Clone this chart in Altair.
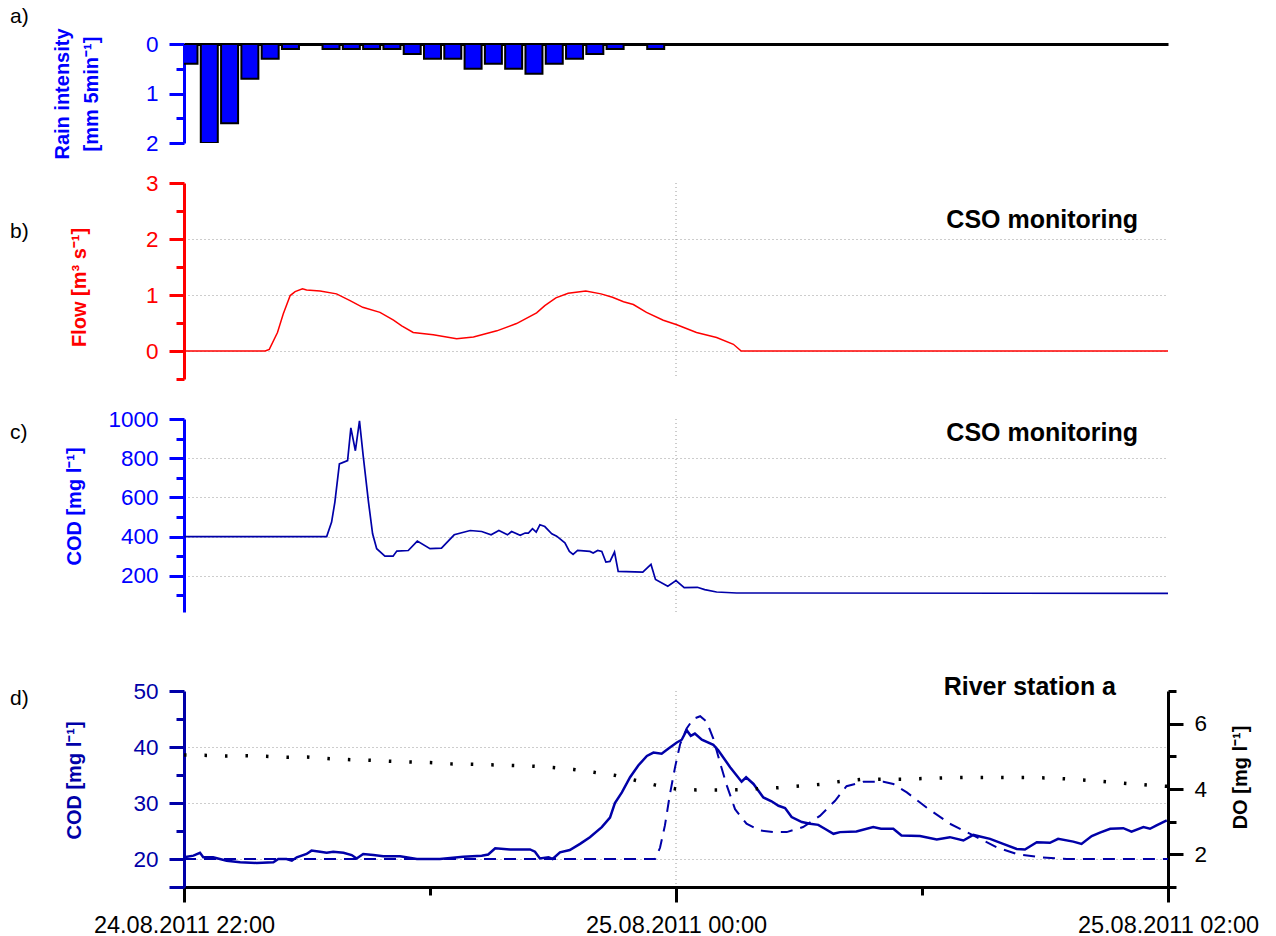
import altair as alt
import pandas as pd

FONT = "Liberation Sans"
BLUE = "#0000FF"
NAVY = "#0000A8"
RED = "#FF0000"
GRID = "#9a9a9a"

# time: minutes after 24.08.2011 22:00
X_TICKS = [0, 60, 120, 180, 240]
X_LABELS = ["24.08.2011 22:00", "", "25.08.2011 00:00", "", "25.08.2011 02:00"]

# a) rain intensity, 5-min bars
RAIN_T = [0, 5, 10, 15, 20, 25, 30, 35, 40, 45, 50, 55, 60, 65, 70, 75, 80, 85, 90, 95, 100, 105, 110, 115]
RAIN_V = [0.4, 2.0, 1.6, 0.7, 0.3, 0.1, 0.0, 0.1, 0.1, 0.1, 0.1, 0.2, 0.3, 0.3, 0.5, 0.4, 0.5, 0.6, 0.4, 0.3, 0.2, 0.1, 0.0, 0.1]

# b) CSO flow
FLOW_T = [0, 19.8, 20.8, 22.8, 24.2, 25.9, 27.1, 28.9, 29.9, 33.2, 37.2, 40.5, 43.6, 47.8, 51.1, 53.1, 55.9,
          60.8, 66.5, 70.6, 76.3, 81.1, 86.0, 88.0, 90.7, 93.7, 98.0, 101.7, 104.5, 107.2, 109.6, 112.8, 116.9,
          120.2, 125.0, 129.9, 134.0, 135.9, 240]
FLOW_V = [0, 0, 0.03, 0.33, 0.66, 0.99, 1.06, 1.11, 1.09, 1.07, 1.02, 0.90, 0.78, 0.69, 0.55, 0.45, 0.33,
          0.29, 0.22, 0.25, 0.36, 0.49, 0.68, 0.81, 0.95, 1.03, 1.07, 1.02, 0.96, 0.88, 0.83, 0.69, 0.55,
          0.47, 0.33, 0.24, 0.12, 0.0, 0.0]

# c) CSO COD
CODC_T = [0, 34.8, 36.0, 36.8, 37.9, 39.9, 40.7, 41.8, 42.8, 43.7, 45.0, 46.0, 47.0, 49.0, 51.0, 51.9, 54.7,
          56.9, 60.0, 62.8, 65.9, 69.8, 72.6, 74.9, 76.8, 78.9, 79.9, 82.0, 83.2, 84.0, 85.0, 85.9, 86.8, 88.0,
          89.7, 90.9, 92.9, 94.0, 94.9, 96.0, 99.0, 99.8, 100.9, 101.9, 102.9, 103.9, 105.0, 105.9, 111.9,
          113.9, 115.0, 118.0, 120.0, 122.0, 125.2, 127.0, 129.9, 134.8, 240]
CODC_V = [400, 400, 474, 576, 771, 788, 955, 838, 990, 813, 576, 414, 338, 300, 300, 326, 329,
          377, 338, 341, 409, 431, 426, 409, 431, 409, 426, 406, 418, 418, 440, 423, 460, 451,
          414, 402, 368, 324, 309, 329, 324, 316, 329, 324, 270, 273, 321, 222, 219,
          258, 181, 147, 175, 139, 141, 129, 117, 112, 110]

# d) river station: COD (solid), COD (dashed), DO (dotted)
CODD_T = [0, 2.3, 3.9, 4.7, 7.1, 10.4, 13.7, 17.7, 21.8, 23.0, 25.0, 26.3, 27.5, 29.9, 31.1, 33.2, 34.8, 36.4,
          38.9, 40.9, 42.1, 43.7, 46.2, 48.6, 52.7, 56.8, 62.4, 68.1, 72.6, 74.2, 75.9, 79.5, 84.4, 85.6, 86.8,
          88.9, 89.9, 91.7, 94.1, 96.6, 99.0, 101.9, 103.9, 105.1, 106.8, 108.8, 110.8, 112.9, 114.5, 116.5,
          118.1, 120.2, 121.4, 122.6, 123.6, 124.6, 126.3, 129.1, 130.3, 133.2, 136.0, 137.1, 138.9, 141.3,
          143.3, 145.0, 146.6, 148.2, 150.7, 152.7, 154.7, 156.3, 158.4, 160.0, 164.0, 168.1, 170.0, 173.0,
          175.0, 179.5, 183.6, 186.8, 190.1, 192.5, 196.6, 199.8, 203.1, 205.1, 208.0, 211.2, 213.2, 216.9,
          218.9, 221.4, 223.4, 225.9, 229.1, 231.1, 234.0, 235.6, 237.2, 239.7]
CODD_V = [20.3, 20.6, 21.1, 20.3, 20.3, 19.7, 19.4, 19.3, 19.4, 20.0, 20.0, 19.7, 20.3, 20.9, 21.5, 21.3, 21.1, 21.3,
          21.1, 20.7, 20.1, 20.9, 20.7, 20.5, 20.5, 20.0, 20.0, 20.4, 20.6, 20.8, 21.9, 21.7, 21.7, 21.3, 20.1,
          20.3, 20.0, 21.2, 21.6, 22.7, 23.9, 25.7, 27.4, 30.0, 31.9, 34.6, 36.7, 38.4, 39.0, 38.8,
          39.7, 40.8, 41.3, 43.0, 42.0, 42.4, 41.3, 40.4, 39.4, 36.4, 33.8, 34.6, 33.4, 31.0,
          30.3, 29.5, 29.1, 27.5, 26.6, 26.3, 26.1, 25.4, 24.5, 24.8, 24.9, 25.7, 25.4, 25.4,
          24.2, 24.1, 23.5, 23.9, 23.3, 24.3, 23.6, 22.7, 21.8, 21.7, 23.0, 22.9, 23.6, 23.1,
          22.7, 24.1, 24.7, 25.4, 25.5, 24.9, 25.7, 25.4, 26.0, 26.9]

DASH_T = [0, 114.9, 116.1, 117.3, 118.5, 119.8, 121.0, 122.6, 124.2, 125.9, 127.5, 129.1, 130.7, 132.4, 134.4,
          137.2, 140.5, 143.7, 147.0, 151.0, 155.1, 158.8, 161.6, 165.7, 170.6, 173.0, 176.3, 181.1, 186.8,
          192.5, 198.2, 203.1, 208.8, 215.3, 240]
DASH_V = [20, 20, 22.0, 26.0, 31.5, 36.5, 40.5, 43.3, 45.0, 45.5, 44.5, 41.5, 37.3, 33.1, 28.9,
          26.3, 25.1, 24.8, 24.8, 25.7, 27.7, 30.4, 33.0, 33.8, 33.8, 33.4, 31.9, 29.2, 26.3,
          24.2, 22.1, 20.9, 20.3, 20.0, 20.0]

DO_T = list(range(0, 241, 5))
DO_V = [5.04, 5.03, 5.01, 5.02, 5.00, 4.97, 4.98, 4.93, 4.90, 4.88, 4.85, 4.83, 4.81, 4.77, 4.76, 4.74, 4.72,
        4.70, 4.66, 4.60, 4.51, 4.42, 4.27, 4.12, 4.00, 3.97, 3.97, 3.98, 4.01, 4.04, 4.09, 4.14, 4.23, 4.29,
        4.30, 4.30, 4.32, 4.34, 4.35, 4.35, 4.35, 4.35, 4.34, 4.31, 4.27, 4.22, 4.17, 4.12, 4.08]

W = 984
XSCALE = alt.Scale(domain=[0, 240], nice=False, zero=False)


def df(t, v):
    return pd.DataFrame({"t": t, "v": v})


def y_axis(color, values, minor_test, label_test, grid_test, title, title_x, title_y,
           orient="left", line_height=None):
    kw = dict(orient=orient, values=values, tickCount=100, domainColor=color, domainWidth=3,
              tickColor=color, tickWidth=3,
              tickSize={"condition": {"test": minor_test, "value": 8}, "value": 15},
              labelExpr=f"({label_test}) ? '' + datum.value : ''",
              labelColor=color, labelFont=FONT, labelFontSize=22.5, labelPadding=11,
              labelOverlap=False,
              title=title, titleColor=color, titleFont=FONT, titleFontSize=20,
              titleFontWeight="bold", titleAngle=270, titleAlign="center",
              titleBaseline="middle", titleX=title_x, titleY=title_y)
    if line_height:
        kw["titleLineHeight"] = line_height
    if grid_test:
        kw.update(grid=True, gridColor=GRID, gridDash=[1, 3], gridWidth=1,
                  gridOpacity={"condition": {"test": grid_test, "value": 1}, "value": 0})
    else:
        kw["grid"] = False
    return alt.Axis(**kw)


def label(text, x, y, size=21, weight="normal", align="left"):
    return alt.Chart(pd.DataFrame({"s": [text]})).mark_text(
        align=align, baseline="middle", font=FONT, fontSize=size, fontWeight=weight, color="black"
    ).encode(text="s:N", x=alt.value(x), y=alt.value(y))


def vrule():
    return alt.Chart(pd.DataFrame({"t": [120]})).mark_rule(
        color=GRID, strokeDash=[1, 3], strokeWidth=1
    ).encode(x=alt.X("t:Q", scale=XSCALE, axis=None))


# ---------- panel a ----------
HA = 99
bars = alt.Chart(df(RAIN_T, RAIN_V)).mark_bar(
    size=17, fill=BLUE, stroke="black", strokeWidth=2, clip=True
).encode(
    x=alt.X("t:Q", scale=XSCALE,
            axis=alt.Axis(orient="top", domainColor="black", domainWidth=3, ticks=False,
                          labels=False, title=None, grid=False)),
    y=alt.Y("v:Q", scale=alt.Scale(domain=[0, 2], reverse=True, nice=False),
            axis=y_axis(BLUE, [0, 0.5, 1, 1.5, 2], "datum.value % 1 != 0", "datum.value % 1 == 0",
                        None, ["Rain intensity", "[mm 5min\u207b\u00b9]"], -122, HA / 2,
                        line_height=29)),
)
panel_a = alt.layer(bars, label("a)", -174, -27)).properties(width=W, height=HA)

# ---------- panel b ----------
HB = 196
flow = alt.Chart(df(FLOW_T, FLOW_V)).mark_line(color=RED, strokeWidth=1.5).encode(
    x=alt.X("t:Q", scale=XSCALE, axis=None),
    y=alt.Y("v:Q", scale=alt.Scale(domain=[-0.5, 3], nice=False, zero=False),
            axis=y_axis(RED, [-0.5, 0, 0.5, 1, 1.5, 2, 2.5, 3], "datum.value % 1 != 0",
                        "datum.value % 1 == 0",
                        "datum.value >= 0 && datum.value <= 2 && datum.value % 1 == 0",
                        "Flow [m\u00b3 s\u207b\u00b9]", -105, 104)),
)
panel_b = alt.layer(vrule(), flow, label("b)", -174, 49),
                    label("CSO monitoring", 954, 37, size=25, weight="bold", align="right")
                    ).properties(width=W, height=HB)

# ---------- panel c ----------
HC = 193
codc = alt.Chart(df(CODC_T, CODC_V)).mark_line(color=NAVY, strokeWidth=1.7).encode(
    x=alt.X("t:Q", scale=XSCALE, axis=None),
    y=alt.Y("v:Q", scale=alt.Scale(domain=[15, 1000], nice=False, zero=False),
            axis=y_axis(BLUE, list(range(100, 1001, 100)), "datum.value % 200 != 0",
                        "datum.value % 200 == 0", "datum.value % 200 == 0 && datum.value < 1000",
                        "COD [mg l\u207b\u00b9]", -110, 87)),
)
panel_c = alt.layer(vrule(), codc, label("c)", -174, 14),
                    label("CSO monitoring", 954, 14, size=25, weight="bold", align="right")
                    ).properties(width=W, height=HC)

# ---------- panel d (group starts 39 px above its plot area) ----------
TOP = 39
HD = 196 + TOP
x_expr = " : ".join(f"datum.value == {v} ? '{s}'" for v, s in zip(X_TICKS, X_LABELS) if s) + " : ''"
XAXIS_D = alt.Axis(orient="bottom", values=X_TICKS, tickCount=100, domainColor="black", domainWidth=3,
                   tickColor="black", tickWidth=3,
                   tickSize={"condition": {"test": "datum.value % 120 != 0", "value": 8}, "value": 15},
                   labelExpr=x_expr, labelFont=FONT, labelFontSize=23.5, labelColor="black",
                   labelPadding=11, labelFlush=False, labelOverlap=False, labelLimit=0,
                   grid=False, title=None)
xd = alt.X("t:Q", scale=XSCALE, axis=XAXIS_D)
left_axis = y_axis(NAVY, list(range(15, 51, 5)), "datum.value % 10 == 5 && datum.value != 15",
                   "datum.value % 10 == 0", "datum.value % 10 == 0 && datum.value < 50",
                   "COD [mg l\u207b\u00b9]", -110, TOP + 89)
yl_scale = alt.Scale(domain=[15, 50], range=[HD, TOP], nice=False, zero=False)
solid = alt.Chart(df(CODD_T, CODD_V)).mark_line(color=NAVY, strokeWidth=2.5).encode(
    x=xd, y=alt.Y("v:Q", scale=yl_scale, axis=left_axis))
dashed = alt.Chart(df(DASH_T, DASH_V)).mark_line(color=NAVY, strokeWidth=2, strokeDash=[12, 8]).encode(
    x=xd, y=alt.Y("v:Q", scale=yl_scale, axis=left_axis))
right_axis = y_axis("black", list(range(1, 8)), "datum.value % 2 == 1", "datum.value % 2 == 0", None,
                    "DO [mg l\u207b\u00b9]", 72, TOP + 86, orient="right")
dotted = alt.Chart(df(DO_T, DO_V)).mark_line(color="black", strokeWidth=3.5, strokeDash=[2.5, 18],
                                              strokeCap="butt").encode(
    x=xd, y=alt.Y("v:Q", scale=alt.Scale(domain=[1, 7], range=[HD, TOP], nice=False, zero=False),
                  axis=right_axis))
grid_rule = alt.Chart(pd.DataFrame({"t": [120], "lo": [15], "hi": [50]})).mark_rule(
    color=GRID, strokeDash=[1, 3], strokeWidth=1
).encode(x=xd, y=alt.Y("hi:Q", scale=yl_scale, axis=left_axis), y2="lo:Q")
left_layer = alt.layer(grid_rule, solid, dashed)
panel_d = alt.layer(left_layer, dotted, label("d)", -174, TOP + 8),
                    label("River station a", 932, TOP - 4, size=25, weight="bold", align="right")
                    ).resolve_scale(y="independent").properties(width=W, height=HD)

chart = alt.vconcat(panel_a, panel_b, panel_c, panel_d, spacing=40, bounds="flush").properties(
    padding={"left": 10, "top": 6, "right": 5, "bottom": 5}
).configure(font=FONT).configure_view(stroke=None)

chart.save("out.html", embed_options={"renderer": "svg", "actions": False})
